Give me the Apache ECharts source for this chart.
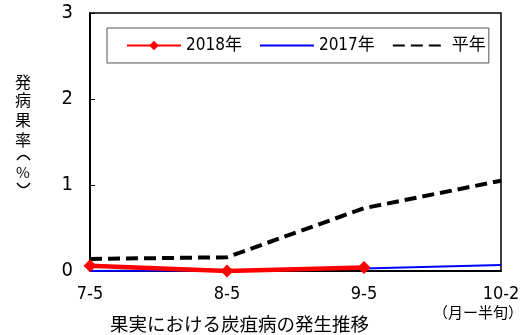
<!DOCTYPE html>
<html>
<head>
<meta charset="utf-8">
<script src="https://cdn.jsdelivr.net/npm/echarts@6/dist/echarts.min.js"></script>
<style>
  html, body { margin: 0; padding: 0; background: #fff; }
  #chart { width: 530px; height: 335px; }
</style>
</head>
<body>
<div id="chart"></div>
<script>
// Half-month periods (month-half-month) when fruit were inspected
const categories = ['7-5', '8-5', '9-5', '10-2'];
// Diseased fruit rate (%)
const rate2018 = [0.06, 0.0, 0.04, null];
const rate2017 = [0.0, 0.01, 0.03, 0.07];
const rateNormal = [0.14, 0.16, 0.73, 1.05];
const yTicks = [0, 1, 2, 3];

const narrow = '"Liberation Sans Narrow", "DejaVu Sans Condensed", "Noto Sans CJK JP", sans-serif';
const jp = '"Noto Sans CJK JP", sans-serif';

// Vertical y-axis name: glyphs stacked one per line
const yNameChars = ['発', '病', '果', '率', '%'];
const yNameCenters = [82, 100, 120, 140, 172];
const yNameGraphics = yNameChars.map((ch, i) => ({
  type: 'text',
  x: 23, y: yNameCenters[i],
  style: {
    text: ch, font: (ch === '%' ? '15px ' : '16px ') + jp, fill: '#000',
    align: 'center', verticalAlign: 'middle'
  }
}));
// Brackets in vertical writing: an arch above the % sign and a cup below it
const bracketStyle = { stroke: '#000', lineWidth: 1.3, fill: null };
yNameGraphics.push(
  { type: 'bezierCurve', shape: { x1: 17, y1: 160, x2: 30, y2: 160, cpx1: 23.5, cpy1: 151 }, style: bracketStyle },
  { type: 'bezierCurve', shape: { x1: 17, y1: 183, x2: 30, y2: 183, cpx1: 23.5, cpy1: 192 }, style: bracketStyle }
);

const chart = echarts.init(document.getElementById('chart'));
chart.setOption({
  animation: false,
  backgroundColor: '#fff',
  grid: {
    left: 90, right: 29, top: 13, bottom: 64,
    show: true, borderColor: '#000', borderWidth: 1.5, backgroundColor: 'transparent'
  },
  legend: {
    left: 107, top: 28,
    padding: [9, 3, 9, 19],
    borderColor: '#555', borderWidth: 1,
    itemWidth: 54, itemHeight: 12, itemGap: 17,
    textStyle: { fontFamily: narrow, fontSize: 17, color: '#000' },
    data: [
      { name: '2018年' },
      { name: '2017年', itemStyle: { opacity: 0 } },
      { name: '平年', itemStyle: { opacity: 0 } }
    ]
  },
  xAxis: {
    type: 'category',
    data: categories,
    boundaryGap: false,
    axisLine: { lineStyle: { color: '#000', width: 2 } },
    axisTick: { show: false },
    axisLabel: { fontFamily: narrow, fontSize: 18, color: '#000', margin: 14 }
  },
  yAxis: {
    type: 'value',
    min: yTicks[0], max: yTicks[yTicks.length - 1], interval: 1,
    axisLine: { show: true, lineStyle: { color: '#000', width: 2 } },
    axisTick: { show: true, inside: true, length: 5, lineStyle: { color: '#000' } },
    splitLine: { show: false },
    axisLabel: { fontFamily: narrow, fontSize: 20, color: '#000', margin: 17 }
  },
  series: [
    {
      name: '2018年', type: 'line', data: rate2018,
      symbol: 'diamond', symbolSize: 13, z: 4,
      itemStyle: { color: '#ff0000' },
      lineStyle: { color: '#ff0000', width: 4.5 }
    },
    {
      name: '2017年', type: 'line', data: rate2017,
      symbol: 'none', z: 3,
      itemStyle: { color: '#0000ff' },
      lineStyle: { color: '#0000ff', width: 2 }
    },
    {
      name: '平年', type: 'line', data: rateNormal,
      symbol: 'none', z: 2,
      itemStyle: { color: '#000' },
      lineStyle: { color: '#000', width: 4, type: [12, 6] }
    }
  ],
  graphic: yNameGraphics.concat([
    {
      type: 'text', left: 433, top: 305,
      style: { text: '（月ー半旬）', font: '15px ' + jp, fill: '#000' }
    },
    {
      type: 'text', left: 110, top: 315,
      style: { text: '果実における炭疽病の発生推移', font: '18.5px ' + jp, fill: '#000' }
    }
  ])
});
</script>
</body>
</html>
